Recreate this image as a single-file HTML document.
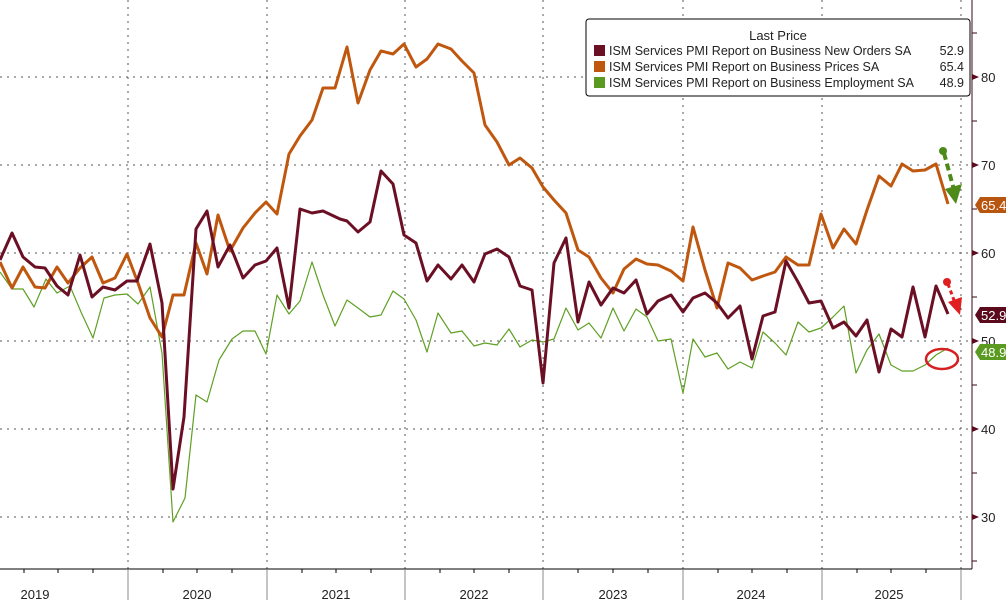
<!DOCTYPE html>
<html><head><meta charset="utf-8"><style>
body{margin:0;background:#fff;}
svg{display:block;font-family:"Liberation Sans","DejaVu Sans",sans-serif;}
</style></head><body>
<svg width="1006" height="600" viewBox="0 0 1006 600" xmlns="http://www.w3.org/2000/svg">
<rect width="1006" height="600" fill="#fff"/>
<g stroke="#555" stroke-width="1" stroke-dasharray="2,5">
<line x1="0" y1="77" x2="972" y2="77"/><line x1="0" y1="165" x2="972" y2="165"/>
<line x1="0" y1="253" x2="972" y2="253"/><line x1="0" y1="341" x2="972" y2="341"/>
<line x1="0" y1="429" x2="972" y2="429"/><line x1="0" y1="517" x2="972" y2="517"/>
<line x1="128" y1="0" x2="128" y2="569"/><line x1="267" y1="0" x2="267" y2="569"/>
<line x1="405" y1="0" x2="405" y2="569"/><line x1="543" y1="0" x2="543" y2="569"/>
<line x1="683" y1="0" x2="683" y2="569"/><line x1="822" y1="0" x2="822" y2="569"/>
<line x1="961" y1="0" x2="961" y2="569"/>
</g>
<line x1="0" y1="569" x2="972" y2="569" stroke="#000"/>
<line x1="972" y1="0" x2="972" y2="569" stroke="#3a0a14"/>
<g stroke="#888"><line x1="128" y1="569" x2="128" y2="600"/><line x1="267" y1="569" x2="267" y2="600"/><line x1="405" y1="569" x2="405" y2="600"/><line x1="543" y1="569" x2="543" y2="600"/><line x1="683" y1="569" x2="683" y2="600"/><line x1="822" y1="569" x2="822" y2="600"/><line x1="961" y1="569" x2="961" y2="600"/></g>
<g stroke="#000">
<line x1="24" y1="569" x2="24" y2="573"/><line x1="58" y1="569" x2="58" y2="573"/><line x1="93" y1="569" x2="93" y2="573"/>
<line x1="163" y1="569" x2="163" y2="573"/><line x1="197" y1="569" x2="197" y2="573"/><line x1="232" y1="569" x2="232" y2="573"/>
<line x1="302" y1="569" x2="302" y2="573"/><line x1="336" y1="569" x2="336" y2="573"/><line x1="371" y1="569" x2="371" y2="573"/>
<line x1="440" y1="569" x2="440" y2="573"/><line x1="474" y1="569" x2="474" y2="573"/><line x1="509" y1="569" x2="509" y2="573"/>
<line x1="578" y1="569" x2="578" y2="573"/><line x1="613" y1="569" x2="613" y2="573"/><line x1="648" y1="569" x2="648" y2="573"/>
<line x1="718" y1="569" x2="718" y2="573"/><line x1="752" y1="569" x2="752" y2="573"/><line x1="787" y1="569" x2="787" y2="573"/>
<line x1="857" y1="569" x2="857" y2="573"/><line x1="891" y1="569" x2="891" y2="573"/><line x1="926" y1="569" x2="926" y2="573"/>
</g>
<g font-size="13" fill="#222" text-anchor="middle">
<text x="35" y="599">2019</text><text x="197" y="599">2020</text><text x="336" y="599">2021</text><text x="474" y="599">2022</text><text x="613" y="599">2023</text><text x="751" y="599">2024</text><text x="889" y="599">2025</text>
</g>
<g stroke="#3a0a14"><line x1="972" y1="33" x2="977" y2="33"/><line x1="972" y1="121" x2="977" y2="121"/><line x1="972" y1="209" x2="977" y2="209"/><line x1="972" y1="297" x2="977" y2="297"/><line x1="972" y1="385" x2="977" y2="385"/><line x1="972" y1="473" x2="977" y2="473"/><line x1="972" y1="561" x2="977" y2="561"/></g>
<g fill="#5a0a1c"><polygon points="972,74 979,77 972,80"/><polygon points="972,162 979,165 972,168"/><polygon points="972,250 979,253 972,256"/><polygon points="972,338 979,341 972,344"/><polygon points="972,426 979,429 972,432"/><polygon points="972,514 979,517 972,520"/></g>
<g font-size="13" fill="#222"><text x="981" y="82">80</text><text x="981" y="170">70</text><text x="981" y="258">60</text><text x="981" y="346">50</text><text x="981" y="434">40</text><text x="981" y="522">30</text></g>
<polyline fill="none" stroke="#5fa024" stroke-width="1.2" stroke-linejoin="round" points="0,272 12,289 23,289 34,307 46,279 57,293 70,286 81,312 93,338 104,298 115,295 127,294 138,304 150,287 162,353 173,522 185,498 196,395 207,402 219,360 232,339 243,331 255,331 266,354 277,295 289,314 300,301 312,262 323,295 335,326 347,300 358,308 370,317 381,315 393,291 404,299 416,320 427,352 438,313 451,333 462,331 474,346 485,343 497,345 509,329 520,347 532,340 543,342 554,339 566,308 578,330 589,323 601,338 613,308 624,331 636,309 647,317 658,341 671,339 683,393 693,339 705,357 717,353 728,369 740,362 752,368 763,332 775,343 786,355 798,322 809,332 821,328 833,317 844,306 856,373 867,350 879,334 891,365 902,371 913,371 925,365 936,355 948,348"/>
<polyline fill="none" stroke="#c0570e" stroke-width="3" stroke-linejoin="round" points="0,262 12,288 23,267 35,287 45,288 57,267 68,283 80,268 92,257 103,283 115,278 127,254 138,283 150,318 162,337 173,295 184,295 196,243 207,274 218,215 230,251 243,228 255,213 266,202 277,214 289,154 300,136 312,120 323,88 335,88 347,47 358,103 370,70 381,51 393,54 404,44 416,67 427,59 438,44 451,49 462,61 474,73 485,125 497,142 509,165 520,158 532,168 543,187 554,200 566,213 578,250 589,257 601,278 613,293 624,269 636,259 647,264 658,265 671,271 683,281 693,227 705,270 717,308 728,263 740,268 752,280 763,276 775,272 786,257 798,265 809,265 821,214 833,248 844,229 856,244 867,210 879,176 891,186 902,164 913,171 925,170 936,164 948,204"/>
<polyline fill="none" stroke="#6b1024" stroke-width="3" stroke-linejoin="round" points="0,260 12,233 23,257 35,267 45,268 57,286 68,295 80,255 92,297 103,287 115,290 127,281 137,281 150,244 162,303 173,489 184,417 196,229 207,211 218,267 230,245 243,278 255,265 266,261 277,248 289,308 300,209 312,213 323,211 340,219 347,221 358,232 370,222 381,171 393,184 404,235 416,243 427,281 438,265 451,279 462,265 474,282 485,254 497,249 509,257 520,286 532,290 543,383 554,263 566,238 578,322 589,282 601,305 613,288 624,293 636,280 647,314 658,301 671,295 683,312 693,298 705,293 717,303 728,318 740,306 752,359 763,316 775,312 786,261 798,282 809,303 821,301 833,328 844,322 856,336 867,320 879,372 891,329 902,337 913,287 925,337 936,286 948,314"/>
<circle cx="943" cy="151" r="4" fill="#4e8a1a"/>
<line x1="944" y1="153" x2="954" y2="190" stroke="#4e8a1a" stroke-width="4" stroke-dasharray="7,4"/>
<polygon points="945,189 962,184 956,204" fill="#4e8a1a"/>
<circle cx="947" cy="282" r="4" fill="#e02020"/>
<line x1="948" y1="284" x2="955" y2="303" stroke="#e02020" stroke-width="3" stroke-dasharray="4,3"/>
<polygon points="948,302 962,297 960,315" fill="#e02020"/>
<ellipse cx="942" cy="359" rx="16" ry="10" fill="none" stroke="#d42020" stroke-width="2.5"/>
<polygon points="975,205 980,197 1006,197 1006,213 980,213" fill="#b8560f"/>
<text x="981" y="210" font-size="13" fill="#fff">65.4</text>
<polygon points="975,315 980,307 1006,307 1006,323 980,323" fill="#5a0a1c"/>
<text x="981" y="320" font-size="13" fill="#fff">52.9</text>
<polygon points="975,352 980,344 1006,344 1006,360 980,360" fill="#5a9a20"/>
<text x="981" y="357" font-size="13" fill="#fff">48.9</text>
<rect x="586" y="19" width="384" height="77" rx="3" fill="#fff" stroke="#000"/>
<text x="778" y="40" font-size="13" fill="#222" text-anchor="middle">Last Price</text>
<rect x="594" y="45" width="11" height="11" fill="#6b1024"/>
<rect x="594" y="61" width="11" height="11" fill="#c0570e"/>
<rect x="594" y="77" width="11" height="11" fill="#5a9a20"/>
<g font-size="12.5" fill="#222">
<text x="609" y="55">ISM Services PMI Report on Business New Orders SA</text><text x="964" y="55" text-anchor="end">52.9</text>
<text x="609" y="71">ISM Services PMI Report on Business Prices SA</text><text x="964" y="71" text-anchor="end">65.4</text>
<text x="609" y="87">ISM Services PMI Report on Business Employment SA</text><text x="964" y="87" text-anchor="end">48.9</text>
</g>
</svg>
</body></html>
